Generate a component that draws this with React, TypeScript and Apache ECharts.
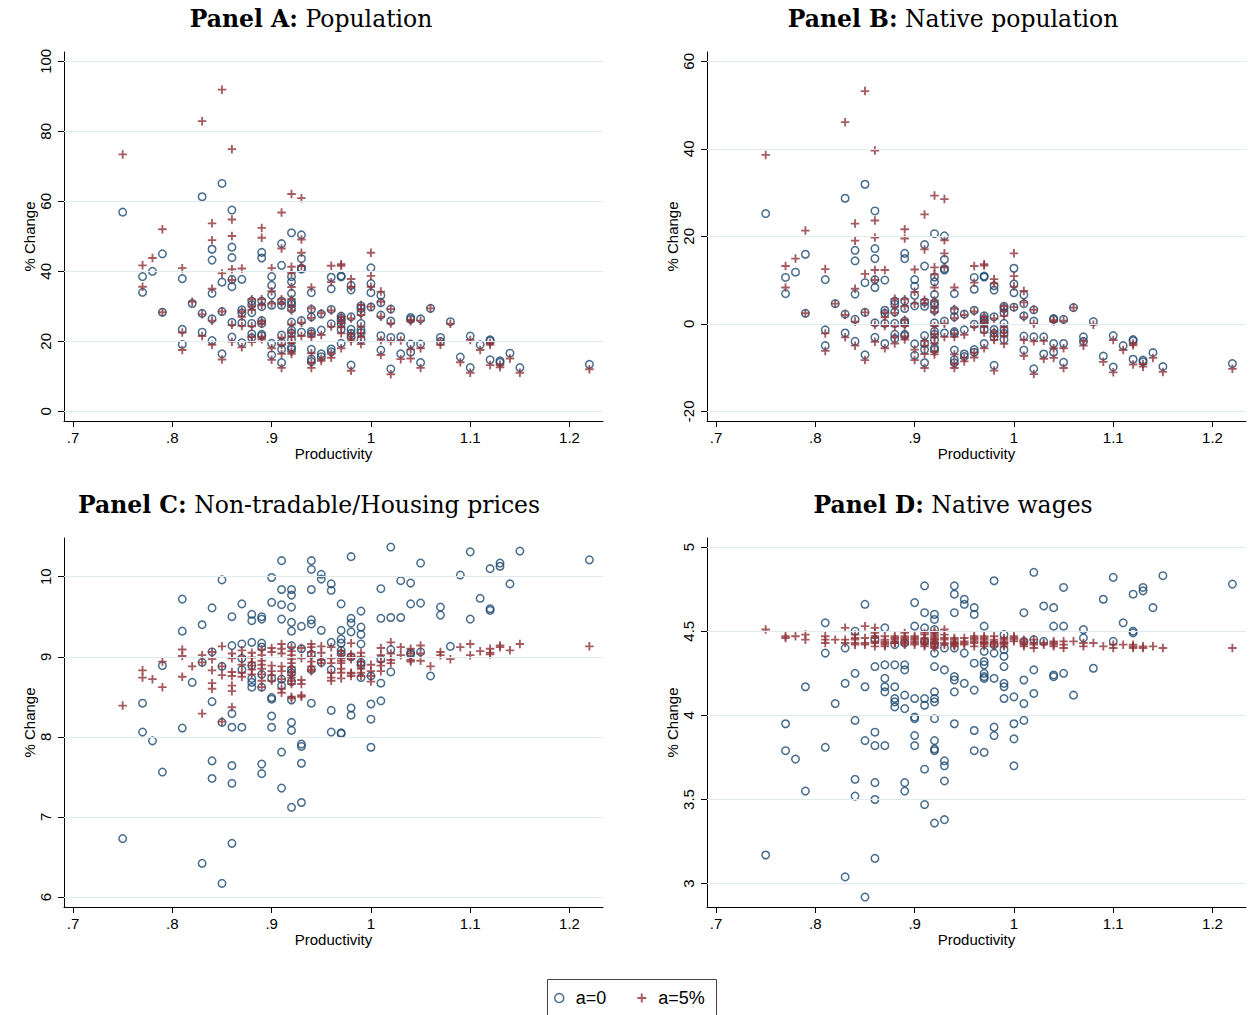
import React, { useEffect, useRef } from "react";
import * as echarts from "echarts";

const productivity = [0.75, 0.77, 0.78, 0.79, 0.81, 0.82, 0.83, 0.84, 0.85, 0.86, 0.87, 0.88, 0.89, 0.9, 0.91, 0.92, 0.93, 0.94, 0.95, 0.96, 0.97, 0.98, 0.99, 1.0, 1.01, 1.02, 1.03, 1.04, 1.05, 1.06, 1.07, 1.08, 1.09, 1.1, 1.11, 1.12, 1.13, 1.14, 1.15, 1.22];

const popA0 = [[56.9],[38.5,34.0],[40.0],[45.0,28.3],[37.9,23.4,19.1],[30.8],[61.3,28.0,22.6],[46.3,43.2,33.7,26.4,20.2],[65.1,36.9,28.5,16.4],[57.5,46.9,43.9,37.7,35.6,25.4,21.2],[37.7,29.0,28.1,25.3,19.6],[31.5,30.5,28.2,25.1,22.1,21.0],[45.4,43.8,31.5,29.9,25.9,25.1,22.0,21.6],[38.5,36.0,33.2,30.3,19.4,16.1],[47.9,41.7,31.5,30.3,21.8,19.6,17.7,13.9],[51.0,38.5,37.0,33.7,31.3,30.6,29.3,25.5,23.2,22.3,20.4,18.3,17.7],[50.4,43.6,40.9,40.6,25.9,22.6],[33.9,29.1,27.0,22.8,22.1,17.7,14.9,14.2],[27.8,23.2,16.4,15.6],[38.3,35.0,29.1,25.0,17.8,17.0],[38.7,38.4,27.2,26.6,25.9,25.0,23.4,19.4],[36.0,34.7,27.0,23.4,22.3,21.3,13.2],[30.1,29.4,28.2,25.1,23.2,22.5,20.4],[41.0,36.5,33.9,29.8],[33.1,31.0,27.5,21.6,17.5],[29.2,25.8,21.1,12.1],[21.3,16.4],[26.8,26.3,19.2,16.9],[26.4,19.2,13.9],[29.4],[21.1,19.9],[25.6],[15.5],[21.5,12.5],[19.0],[20.4,20.1,14.7],[14.4,14.0],[16.6],[12.5],[13.4]];
const popA5 = [[73.4],[41.7,35.6],[43.8],[52.0,28.3],[40.9,22.5,17.5],[31.3],[82.9,27.7,21.5],[53.7,48.9,35.0,25.9,19.0],[91.9,39.4,28.5,14.8],[74.9,54.8,50.1,40.6,37.5,24.7,19.9],[40.8,28.5,27.0,24.4,18.3],[32.0,30.0,29.0,24.3,21.3,19.8],[52.4,49.6,32.0,30.3,25.7,25.0,21.3,20.6],[40.9,34.3,30.8,18.0,14.7],[56.8,46.5,32.0,30.8,21.0,19.0,16.4,12.4],[62.1,41.3,39.5,35.5,32.0,30.0,28.8,24.8,22.5,21.3,19.5,17.0,16.4],[60.9,49.1,45.3,41.5,25.3,21.5],[35.4,29.4,26.7,22.3,21.3,16.6,13.8,12.4],[28.0,21.8,15.0,14.4],[41.6,36.9,28.8,24.2,16.5,15.3],[42.0,41.6,27.0,26.0,25.2,24.0,22.3,18.0],[37.8,35.5,26.5,22.0,20.8,20.0,11.6],[30.4,29.0,27.5,24.2,22.3,21.3,19.2],[45.3,38.7,35.6,29.9],[34.2,31.3,27.0,20.4,16.1],[29.2,25.1,20.0,10.6],[20.2,14.9],[26.1,25.7,17.7,15.1],[25.9,18.0,12.4],[29.4],[20.0,19.0],[25.0],[14.0],[20.4,11.0],[17.5],[19.5,19.0,13.2],[13.3,12.6],[15.1],[11.0],[12.0]];

const natB0 = [[25.2],[10.6,6.9],[11.8],[15.9,2.4],[10.1,-1.4,-5.0],[4.6],[28.7,2.2,-2.1],[16.8,14.4,6.8,1.0,-4.0],[31.9,9.4,2.6,-7.1],[25.8,17.2,14.9,10.1,8.3,0.2,-3.1],[10.0,3.1,2.4,0.1,-4.5],[5.2,4.5,2.7,0.1,-2.4,-3.4],[16.1,14.9,5.2,3.5,0.6,0.1,-2.4,-2.7],[10.1,8.6,6.5,4.1,-4.6,-7.2],[18.1,13.2,5.0,4.0,-2.7,-4.5,-5.9,-8.9],[20.6,10.7,9.6,6.7,4.8,4.3,3.1,0.2,-1.7,-2.4,-3.7,-5.5,-5.9],[20.1,14.7,12.6,12.3,0.6,-2.1],[6.9,3.1,1.6,-1.8,-2.2,-6.0,-8.2,-8.9],[2.2,-1.4,-6.9,-7.5],[10.6,7.9,3.1,-0.1,-5.9,-6.5],[10.9,10.7,1.8,1.2,0.7,0.1,-1.3,-4.5],[8.7,7.7,1.6,-1.3,-2.2,-3.0,-9.5],[4.0,3.5,2.5,0.1,-1.4,-2.2,-3.6],[12.7,9.1,7.1,3.8],[6.6,4.6,1.8,-2.8,-6.0],[3.2,0.6,-3.0,-10.3],[-3.0,-6.9],[1.2,1.0,-4.5,-6.5],[1.0,-4.5,-8.8],[3.7],[-3.0,-4.0],[0.5],[-7.4],[-2.7,-9.9],[-5.0],[-3.6,-3.9,-8.1],[-8.3,-8.7],[-6.6],[-9.8],[-9.1]];
const natB5 = [[38.6],[13.2,8.3],[14.9],[21.3,2.4],[12.5,-2.2,-6.2],[4.6],[46.1,2.0,-3.1],[22.9,19.0,8.0,0.5,-5.0],[53.2,11.4,2.6,-8.3],[39.6,23.6,19.7,12.3,10.0,-0.3,-4.1],[12.3,2.6,1.5,-0.5,-5.6],[5.7,3.9,2.5,-0.6,-3.0,-4.5],[21.6,19.5,5.6,4.0,0.9,-0.5,-2.9,-3.6],[12.4,7.3,4.6,-5.9,-8.3],[25.0,17.0,5.5,4.6,-3.9,-5.0,-6.9,-10.1],[29.3,12.9,11.3,8.3,5.3,3.8,2.7,-0.5,-2.4,-3.1,-4.5,-6.4,-7.0],[28.5,19.1,16.1,12.9,0.0,-3.0],[8.3,3.4,1.3,-2.2,-3.0,-7.0,-9.2,-10.1],[2.0,-2.5,-7.8,-8.6],[13.2,9.4,2.8,-0.7,-6.6,-7.7],[13.6,13.3,1.6,0.8,0.2,-0.7,-2.0,-5.6],[10.2,9.2,1.2,-1.8,-2.8,-3.7,-10.7],[4.0,3.0,1.8,-0.8,-2.0,-2.8,-4.6],[16.1,10.9,8.5,3.8],[7.5,4.9,1.5,-3.7,-7.3],[3.2,0.0,-4.0,-11.5],[-3.9,-8.0],[0.8,0.5,-5.6,-7.8],[0.7,-5.6,-10.1],[3.7],[-4.0,-5.0],[-0.2],[-8.7],[-3.7,-11.1],[-6.0],[-4.5,-4.9,-9.3],[-9.2,-9.8],[-7.8],[-11.0],[-10.3]];

const priceC0 = [[6.73],[8.42,8.06],[7.95],[8.89,7.56],[9.72,9.32,8.11],[8.68],[9.40,8.93,6.42],[9.61,9.06,8.44,7.70,7.48],[9.96,8.88,8.18,6.17],[9.50,9.14,8.29,8.12,7.64,7.42,6.67],[9.66,9.16,8.98,8.84,8.12],[9.53,9.45,9.18,8.89,8.73,8.68,8.62],[9.50,9.47,9.17,9.12,8.78,8.62,7.66,7.54],[9.99,9.68,8.73,8.49,8.47,8.26,8.12],[10.20,9.84,9.65,9.47,8.72,8.64,7.81,7.36],[9.84,9.77,9.62,9.43,9.32,9.14,8.84,8.80,8.69,8.46,8.18,8.08,7.12],[9.38,9.10,7.91,7.88,7.67,7.18],[10.20,10.09,9.84,9.46,9.41,9.03,8.84,8.42],[10.03,9.97,9.33,8.93],[9.91,9.83,9.18,8.84,8.33,8.06],[9.66,9.33,9.22,9.17,9.08,9.04,8.05,8.04],[10.25,9.48,9.42,9.31,9.00,8.36,8.27],[9.57,9.37,9.28,9.16,8.93,8.90,8.74],[8.76,8.41,8.22,7.87],[9.85,9.48,8.97,8.67,8.45],[10.37,9.49,9.09,8.81],[9.95,9.49],[9.92,9.66,9.05,9.03],[10.17,9.67,9.06],[8.76],[9.62,9.52],[9.13],[10.02],[10.31,9.47],[9.73],[10.10,9.60,9.58],[10.17,10.13],[9.91],[10.32],[10.21]];
const priceC5 = [[8.39],[8.83,8.74],[8.72],[8.94,8.62],[9.09,9.01,8.75],[8.88],[9.02,8.93,8.29],[9.06,8.97,8.83,8.67,8.60],[9.13,8.88,8.77,8.19],[9.04,8.98,8.81,8.76,8.64,8.57,8.37],[9.08,9.00,8.90,8.80,8.75],[9.05,8.99,8.93,8.89,8.84,8.78],[9.09,9.02,8.95,8.90,8.85,8.78,8.70,8.62],[9.11,9.06,8.89,8.82,8.77,8.70],[9.16,9.10,9.04,8.88,8.82,8.72,8.60,8.55],[9.12,9.07,9.02,8.97,8.92,8.87,8.81,8.77,8.74,8.70,8.66,8.50,8.48],[9.11,8.98,8.71,8.66,8.52,8.50],[9.16,9.12,9.06,9.00,8.94,8.88,8.84,8.82],[9.13,9.05,8.96,8.92],[9.12,8.98,8.92,8.80,8.74,8.70],[9.07,9.02,8.98,8.95,8.92,8.85,8.80,8.73],[9.17,9.03,9.00,8.97,8.80,8.79,8.76],[9.05,9.00,8.94,8.89,8.85,8.80,8.76],[8.90,8.82,8.76,8.69],[9.11,9.02,8.94,8.89,8.82],[9.18,9.04,8.96,8.92],[9.12,9.02],[9.10,9.04,8.96,8.94],[9.14,9.04,8.95],[8.88],[9.06,9.02],[8.97],[9.12],[9.16,9.02],[9.07],[9.10,9.05,9.03],[9.14,9.12],[9.08],[9.16],[9.13]];

const wageD0 = [[3.17],[3.95,3.79],[3.74],[4.17,3.55],[4.55,4.37,3.81],[4.07],[4.40,4.19,3.04],[4.50,4.25,3.97,3.62,3.52],[4.66,4.17,3.85,2.92],[4.45,4.29,3.90,3.82,3.60,3.50,3.15],[4.52,4.30,4.22,4.17,4.14,3.82],[4.42,4.30,4.17,4.10,4.08,4.05],[4.43,4.30,4.27,4.12,4.04,3.60,3.55],[4.67,4.53,4.10,3.99,3.98,3.88,3.82],[4.77,4.61,4.52,4.44,4.10,4.06,3.68,3.47],[4.60,4.57,4.51,4.42,4.37,4.29,4.14,4.10,4.08,3.98,3.85,3.80,3.79,3.36],[4.40,4.27,3.73,3.70,3.61,3.38],[4.77,4.72,4.61,4.40,4.23,4.21,4.14,3.95],[4.69,4.66,4.37,4.19],[4.64,4.60,4.31,4.15,3.91,3.79],[4.53,4.38,4.32,4.30,4.25,4.23,4.22,3.78],[4.80,4.42,4.37,4.22,3.93,3.88],[4.48,4.39,4.35,4.29,4.19,4.17,4.10],[4.11,3.95,3.86,3.70],[4.61,4.44,4.21,4.07,3.97],[4.85,4.45,4.27,4.13],[4.65,4.44],[4.64,4.53,4.24,4.23],[4.76,4.53,4.25],[4.12],[4.51,4.46],[4.28],[4.69],[4.82,4.44],[4.55],[4.72,4.50,4.49],[4.76,4.74],[4.64],[4.83],[4.78]];
const wageD5 = [[4.51],[4.47,4.46],[4.47],[4.48,4.45],[4.47,4.45,4.43],[4.45],[4.52,4.45,4.43],[4.48,4.46,4.45,4.43,4.42],[4.53,4.46,4.43,4.42],[4.52,4.49,4.47,4.46,4.44,4.43,4.41],[4.47,4.45,4.44,4.43,4.42,4.41],[4.47,4.46,4.45,4.44,4.43,4.43],[4.49,4.47,4.46,4.45,4.44,4.43,4.42],[4.47,4.46,4.45,4.44,4.43,4.42],[4.49,4.48,4.46,4.45,4.44,4.43,4.42,4.41],[4.50,4.49,4.48,4.47,4.46,4.45,4.45,4.44,4.43,4.43,4.42,4.41,4.40],[4.51,4.48,4.46,4.45,4.43,4.42],[4.46,4.45,4.44,4.43,4.43,4.42,4.42,4.41],[4.46,4.44,4.43,4.42],[4.47,4.46,4.45,4.44,4.43,4.41],[4.47,4.46,4.45,4.44,4.43,4.43,4.42,4.41],[4.47,4.45,4.44,4.43,4.42,4.41],[4.46,4.45,4.44,4.43,4.43,4.42,4.41],[4.47,4.46,4.45,4.44],[4.45,4.44,4.43,4.42,4.41],[4.45,4.43,4.42,4.40],[4.43,4.42],[4.44,4.43,4.42,4.41],[4.44,4.42,4.40],[4.44],[4.43,4.41],[4.43],[4.41],[4.42,4.40],[4.42],[4.42,4.41,4.40],[4.41,4.40],[4.41],[4.40],[4.40]];

const xTicks = [0.7, 0.8, 0.9, 1, 1.1, 1.2];
const yTicksA = [0, 20, 40, 60, 80, 100];
const yTicksB = [-20, 0, 20, 40, 60];
const yTicksC = [6, 7, 8, 9, 10];
const yTicksD = [3, 3.5, 4, 4.5, 5];

const panelBold = ["Panel A:", "Panel B:", "Panel C:", "Panel D:"];
const panelName = ["Population", "Native population", "Non-tradable/Housing prices", "Native wages"];
const seriesNames = ["a=0", "a=5%"];

const NAVY = "#1a476f";
const MAROON = "#90353b";
const CROSS = "path://M3.9,0H6.1V3.9H10V6.1H6.1V10H3.9V6.1H0V3.9H3.9Z";
const SANS = "'Liberation Sans', Arial, Helvetica, sans-serif";
const SERIF = "'DejaVu Serif', 'Liberation Serif', serif";

function pairs(cols: number[][]) {
  return productivity.flatMap((x, i) => cols[i].map((y) => [x, y]));
}

const layout = [
  { left: 64, top: 52, yMin: -2.77, yMax: 102.66, ticks: yTicksA, s0: popA0, s5: popA5, tx: 311, ty: 19 },
  { left: 707, top: 52, yMin: -22.22, yMax: 62.13, ticks: yTicksB, s0: natB0, s5: natB5, tx: 953, ty: 19 },
  { left: 64, top: 538, yMin: 5.875, yMax: 10.483, ticks: yTicksC, s0: priceC0, s5: priceC5, tx: 309, ty: 505 },
  { left: 707, top: 538, yMin: 2.861, yMax: 5.054, ticks: yTicksD, s0: wageD0, s5: wageD5, tx: 953, ty: 505 },
];

function fmtX(v: number) {
  const s = String(Math.round(v * 10) / 10);
  return s.startsWith("0.") ? s.slice(1) : s;
}

export default function App() {
  const ref = useRef<HTMLDivElement>(null);
  useEffect(() => {
    document.body.style.margin = "0";
    const chart = echarts.init(ref.current!, undefined, { renderer: "svg" });
    const grid = layout.map((p) => ({ left: p.left, top: p.top, width: 539, height: 369 }));
    const xAxis = layout.map((p, i) => ({
      type: "value",
      gridIndex: i,
      min: 0.6909,
      max: 1.2337,
      name: "Productivity",
      nameLocation: "middle",
      nameGap: 25,
      nameTextStyle: { fontFamily: SANS, fontSize: 15, color: "#000" },
      axisLine: { show: true, onZero: false, lineStyle: { color: "#000", width: 1 } },
      axisTick: { show: true, length: 6, customValues: xTicks, lineStyle: { color: "#000" } },
      axisLabel: { customValues: xTicks, formatter: fmtX, fontFamily: SANS, fontSize: 15, color: "#000", margin: 9 },
      splitLine: { show: false },
    }));
    const yAxis = layout.map((p, i) => ({
      type: "value",
      gridIndex: i,
      min: p.yMin,
      max: p.yMax,
      name: "% Change",
      nameLocation: "middle",
      nameRotate: 90,
      nameGap: 27,
      nameTextStyle: { fontFamily: SANS, fontSize: 15, color: "#000" },
      axisLine: { show: true, onZero: false, lineStyle: { color: "#000", width: 1 } },
      axisTick: { show: true, length: 6, customValues: p.ticks, lineStyle: { color: "#000" } },
      axisLabel: { customValues: p.ticks, rotate: 90, formatter: (v: number) => String(v), fontFamily: SANS, fontSize: 15, color: "#000", margin: 11 },
      splitLine: { show: false },
    }));
    const series: any[] = [];
    layout.forEach((p, i) => {
      series.push({
        type: "scatter",
        name: seriesNames[0],
        xAxisIndex: i,
        yAxisIndex: i,
        data: pairs(p.s0),
        symbol: "circle",
        symbolSize: 7.5,
        itemStyle: { color: "rgba(0,0,0,0)", borderColor: NAVY, borderWidth: 1.5 },
        emphasis: { disabled: true },
        markLine: {
          silent: true,
          symbol: "none",
          label: { show: false },
          lineStyle: { color: "#e1eaee", width: 1, type: "solid" },
          emphasis: { disabled: true },
          data: p.ticks.map((v) => ({ yAxis: v })),
        },
      });
      series.push({
        type: "scatter",
        name: seriesNames[1],
        xAxisIndex: i,
        yAxisIndex: i,
        data: pairs(p.s5),
        symbol: CROSS,
        symbolSize: 8.5,
        itemStyle: { color: MAROON },
        emphasis: { disabled: true },
      });
    });
    const titles = layout.map((p, i) => ({
      type: "text",
      x: p.tx,
      y: p.ty,
      style: {
        text: `{b|${panelBold[i]}}{r| ${panelName[i]}}`,
        align: "center",
        verticalAlign: "middle",
        rich: {
          b: { fontFamily: SERIF, fontWeight: "bold", fontSize: 23.5, fill: "#000" },
          r: { fontFamily: SERIF, fontSize: 23.5, fill: "#000" },
        },
      },
    }));
    chart.setOption({
      animation: false,
      grid,
      xAxis,
      yAxis,
      series,
      legend: {
        data: [
          { name: seriesNames[0], icon: "circle", itemStyle: { color: "rgba(0,0,0,0)", borderColor: NAVY, borderWidth: 1.5 } },
          { name: seriesNames[1], icon: CROSS, itemStyle: { color: MAROON, borderWidth: 0 } },
        ],
        left: 554,
        top: 989,
        orient: "horizontal",
        itemWidth: 9,
        itemHeight: 9,
        itemGap: 31,
        padding: 0,
        selectedMode: false,
        textStyle: { fontFamily: SANS, fontSize: 18, color: "#000", padding: [0, 0, 0, 7] },
      },
      graphic: [
        ...titles,
        {
          type: "rect",
          shape: { x: 547.5, y: 979.5, width: 169, height: 60 },
          style: { fill: "none", stroke: "#444", lineWidth: 1 },
        },
      ],
    });
    return () => chart.dispose();
  }, []);
  return <div ref={ref} style={{ width: 1249, height: 1015 }} />;
}
